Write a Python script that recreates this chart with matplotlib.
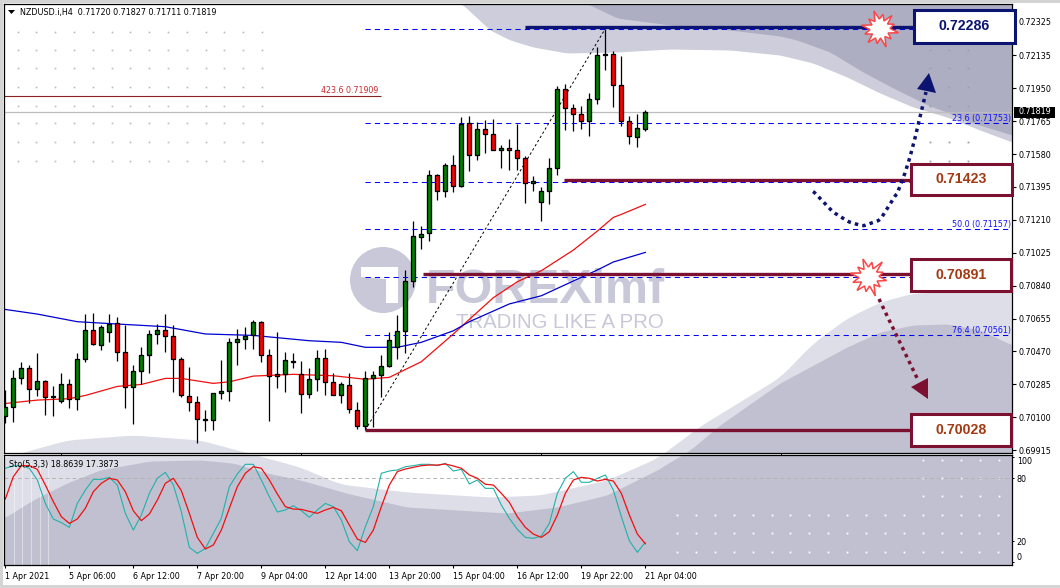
import numpy as np
import matplotlib
matplotlib.use("Agg")
import matplotlib.pyplot as plt
from matplotlib.patches import Polygon, Rectangle, Circle

W, H = 1060, 588
plt.rcParams['font.family'] = 'DejaVu Sans'
plt.rcParams['font.size'] = 5.8

# candles, in 1e-5 of a price unit
opens = [70108,70159,70318,70374,70256,70303,70217,70189,70284,70200,70425,70588,70504,70577,70628,70464,
         70267,70358,70448,70566,70588,70555,70425,70217,70183,70087,70082,70234,70245,70521,70538,70560,
         70633,70448,70341,70341,70408,70341,70228,70313,70431,70296,70222,70279,70138,70048,70318,70335,
         70388,70493,70583,70864,71115,71134,71461,71370,71517,71399,71757,71573,71719,71691,71601,71612,
         71601,71556,71415,71309,71370,71500,71945,71838,71804,71764,71888,72136,72141,71967,71764,71674,71720]
highs = [70252,70365,70408,70393,70459,70309,70275,70346,70313,70459,70680,70684,70618,70680,70661,70618,
         70393,70496,70590,70622,70680,70618,70436,70380,70219,70140,70234,70419,70543,70594,70605,70646,
         70639,70481,70577,70464,70459,70414,70374,70476,70481,70350,70299,70346,70183,70361,70361,70448,
         70581,70673,70928,71203,71175,71491,71468,71528,71575,71787,71794,71759,71772,71776,71629,71663,
         71749,71569,71457,71393,71556,71963,71973,71860,71851,71922,72181,72286,72162,72132,71794,71804,71827]
lows = [70065,70074,70286,70181,70219,70112,70106,70177,70153,70140,70412,70506,70478,70524,70418,70153,
        70061,70286,70350,70511,70468,70243,70211,70134,69956,70024,70029,70204,70192,70395,70483,70483,
        70412,70080,70266,70243,70376,70125,70209,70249,70224,70222,70177,70121,70031,70028,70046,70215,
        70384,70429,70463,70834,71044,71093,71322,71340,71367,71397,71485,71547,71588,71601,71504,71491,
        71491,71307,71372,71205,71299,71462,71716,71712,71723,71684,71864,72053,71847,71740,71639,71618,71711]
closes = [70155,70318,70374,70256,70303,70211,70211,70284,70200,70425,70588,70509,70605,70622,70464,70267,
          70358,70448,70566,70588,70555,70425,70222,70183,70087,70082,70234,70245,70521,70538,70555,70633,
          70448,70329,70329,70419,70414,70228,70313,70431,70296,70222,70284,70144,70048,70318,70335,70386,
          70532,70583,70864,71117,71128,71461,71370,71517,71399,71748,71573,71719,71691,71601,71612,71601,
          71556,71415,71427,71370,71500,71945,71838,71804,71764,71888,72136,72141,71967,71764,71680,71725,71819]

# moving averages, read at the listed candles
red_ma_idx = [0,4,8,10,14,17,20,22,26,28,31,36,41,45,48,52,56,58,61,64,67,71,74,76,77,80]
red_ma = [70177,70196,70204,70222,70273,70284,70318,70318,70290,70299,70331,70341,70333,70313,70324,70412,
          70568,70650,70772,70862,70924,71040,71147,71224,71241,71297]
blue_ma_idx = [0,4,9,14,20,25,31,38,42,45,49,52,56,58,63,67,71,74,76,80]
blue_ma = [70706,70680,70637,70624,70609,70568,70560,70530,70521,70493,70493,70521,70586,70637,70737,70783,
           70866,70928,70973,71027]

sto_signal = [60.2,81.6,92.1,92.1,88.6,73.6,57.7,43.3,36.9,41.1,51.3,67.2,75.2,80,78.4,67.2,49.0,39.5,45.8,
              59.2,75.2,80,68.2,46.5,23.5,12.4,16.2,30.5,51.3,72,84.8,91.1,89.6,78.4,65,52.9,50.6,50.3,48.4,
              46.5,49.7,52.2,49,35.3,21.9,18.7,30.5,52.9,73.6,86.4,88.9,90.5,92.1,92.7,92.7,93.7,91.8,89.6,
              83.2,80,74.3,73.6,65.6,57,43.3,33.1,26.7,23.5,28.9,44.9,65.6,78.4,80.9,80,77.4,79,77.4,65.6,
              44.9,26.7,17.39]
sto_main = [89.6,91.8,92.1,89.6,78.4,56,41.1,37.6,33.1,56,68.8,79,79,80.9,73.6,46.5,30.5,44.9,65.6,80,85.7,
            73.6,48.1,14,8.2,13,27.3,41.7,72,84.1,93.4,93.4,78.4,62.4,47.8,49.7,53.8,49,42.7,49.7,56,52.9,
            40.1,19.4,10.8,33.7,52.9,84.8,87,88,91.1,92.1,93.4,93.4,92.1,94.3,87,88.6,74.6,78.4,70.4,70.4,
            54.5,41.7,31.2,23.5,22.6,24.8,36.9,65.6,80,86.4,76.2,76.2,80,83.2,68.8,43.3,20.3,9.2,18.86]

price_ticks = ["0.72325","0.72135","0.71950","0.71765","0.71580","0.71395","0.71210",
               "0.71025","0.70840","0.70655","0.70470","0.70285","0.70100","0.69915"]
date_ticks = ["1 Apr 2021","5 Apr 06:00","6 Apr 12:00","7 Apr 20:00","9 Apr 04:00","12 Apr 14:00",
              "13 Apr 20:00","15 Apr 04:00","16 Apr 12:00","19 Apr 22:00","21 Apr 04:00"]
fib_levels = [0.72286, 0.71753, 0.71423, 0.71157, 0.70891, 0.70561]
fib_labels = {0.71753: "23.6 (0.71753)", 0.71157: "50.0 (0.71157)", 0.70561: "76.4 (0.70561)"}
ext_level = 0.71909
last_price = 0.71819
trend_idx = [45, 75]
trend_price = [0.70028, 0.72286]

NAVY = "#0b1470"
MAROON = "#7c1030"
BOX_TEXT = "#a33a14"

GREEN = "#008000"
RED = "#ff0000"


def px_axes(fig, left, top, right, bottom):
    return fig.add_axes([left / W, 1 - bottom / H, (right - left) / W, (bottom - top) / H])


def smooth(points, win=21):
    pts = np.array(points, dtype=float)
    x = np.arange(pts[0, 0], pts[-1, 0] + 1)
    y = np.interp(x, pts[:, 0], pts[:, 1])
    pad = win // 2
    y = np.convolve(np.pad(y, pad, mode="edge"), np.ones(win) / win, mode="valid")
    return x, y


def draw_watermark(ax):
    ax.add_patch(Rectangle((0, 0), W, 3, color="#d4d4d4", lw=0))
    ax.add_patch(Rectangle((0, 0), 3, H, color="#d4d4d4", lw=0))
    ax.add_patch(Rectangle((0, 585), W, 3, color="#d4d4d4", lw=0))

    # dot grids
    for y in [32, 50, 68, 87, 106, 123, 142, 161]:
        ax.plot(17.5 + 18.8 * np.arange(14), [y] * 14, ls="", marker="s", ms=1.2, color="#b9b9cc", mew=0)
    # top wave
    x, y = smooth([(462, 4), (475, 16), (490, 30), (510, 40), (533, 47), (567, 53), (617, 52), (670, 49), (730, 50),
                   (780, 55), (813, 63), (847, 77), (880, 93), (913, 107), (947, 117), (980, 130), (1012, 142)], 9)
    ax.fill_between(x, 4, y, color="#cdcddb", lw=0)
    x, y = smooth([(588, 4), (617, 18), (670, 25), (730, 30), (780, 36), (797, 40), (830, 52), (863, 72), (897, 90),
                   (930, 106), (947, 112), (967, 121), (1012, 135)], 9)
    ax.fill_between(x, 4, y, color="#aeaec2", lw=0)
    # bottom wave
    x, y = smooth([(4, 458), (20, 453), (67, 440), (133, 435), (200, 440), (267, 458), (300, 467), (340, 484),
                   (407, 492), (490, 497), (540, 495), (607, 480), (657, 458), (700, 426), (780, 377), (813, 343),
                   (847, 318), (880, 302), (913, 293), (947, 292), (1012, 292)])
    ax.fill_between(x, y, 565, color="#dedee8", lw=0)
    x, y = smooth([(4, 518), (33, 500), (67, 483), (100, 470), (150, 461), (200, 460), (233, 463), (267, 473),
                   (300, 480), (350, 494), (407, 507), (507, 513), (557, 507), (607, 495), (657, 470), (690, 450),
                   (720, 425), (780, 383), (847, 347), (880, 332), (913, 325), (947, 324), (980, 330), (1012, 345)], 9)
    ax.fill_between(x, y, 565, color="#c0c0d0", lw=0)

    ax.vlines([14, 22, 31, 40, 48], 462, 565, color="white", lw=0.7, alpha=0.45)
    for y in [50, 68, 87, 106, 123, 142, 161]:
        ax.plot([930, 949, 968], [y] * 3, ls="", marker="s", ms=1.3, color="#9d9db0", mew=0)
    for y in [515, 533, 552]:
        ax.plot(677 + 18.9 * np.arange(18), [y] * 18, ls="", marker="s", ms=1.3, color="white", mew=0)
    for y in [459.5, 478, 496]:
        ax.plot(923 + 18.9 * np.arange(5), [y] * 5, ls="", marker="s", ms=1.3, color="white", mew=0)

    # logo
    ax.add_patch(Circle((383, 280), 33, color="#c8c8d8", lw=0))
    ax.add_patch(Polygon([(361, 267), (398, 267), (398, 303), (386, 303), (386, 279), (361, 277)], color="white", lw=0))
    ax.text(426, 303, "FOREXimf", family="Liberation Sans", weight="bold", size=34.8, color="#c8c8d8", va="baseline")
    ax.text(456, 328, "TRADING LIKE A PRO", family="Liberation Sans", size=14.7, color="#c8c8d8", va="baseline")

    ax.add_patch(Rectangle((4, 453), 1008, 2, color="white", lw=0))


def draw_star(ax, cx, cy, radii):
    ang = np.linspace(0, 2 * np.pi, len(radii), endpoint=False) + 0.2
    pts = [(cx + r * np.cos(a), cy + r * np.sin(a)) for r, a in zip(radii, ang)]
    ax.add_patch(Polygon(pts, closed=True, fc="white", ec="#fa4646", lw=1.1, joinstyle="miter"))


def draw_box(ax, left, top, right, bottom, text, edge, color):
    ax.add_patch(Rectangle((left, top), right - left, bottom - top, fc="white", ec=edge, lw=2.2))
    ax.text((left + right) / 2, (top + bottom) / 2, text, family="Liberation Sans", weight="bold", size=10.2,
            color=color, ha="center", va="center")


def main():
    fig = plt.figure(figsize=(W / 100, H / 100), dpi=100, facecolor="white")

    back = fig.add_axes([0, 0, 1, 1], zorder=0)
    back.set_xlim(0, W)
    back.set_ylim(H, 0)
    back.axis("off")
    draw_watermark(back)

    ax = px_axes(fig, 4, 4, 1012, 452.7)
    sub = px_axes(fig, 4, 455, 1012, 565)
    for a in (ax, sub):
        a.set_zorder(2)
        a.patch.set_alpha(0)
        a.set_xlim(-0.166, 125.83)
        for s in a.spines.values():
            s.set_linewidth(0.9)

    ax.set_ylim(0.69900, 0.724246)
    sub.set_ylim(-2.9, 102.3)

    o = np.array(opens) / 1e5
    h = np.array(highs) / 1e5
    l = np.array(lows) / 1e5
    c = np.array(closes) / 1e5
    idx = np.arange(len(o))

    # level lines sit under the candles
    for lev in fib_levels:
        ax.hlines(lev, 45, 125.83, color="#0000ff", lw=0.75, linestyles=(0, (5, 4)), zorder=1, snap=True)
    ax.hlines(last_price, -0.166, 125.83, color="#bdbdbd", lw=0.9, zorder=1)
    ax.hlines(ext_level, -0.166, 46.9, color="#8c2020", lw=0.8, zorder=1)
    ax.text(39.4, ext_level + 0.00003, "423.6 0.71909", color="#c8282d", size=5.7, va="bottom")
    for lev, txt in fib_labels.items():
        ax.text(125.7, lev + 0.00003, txt, color="#1414ff", size=5.8, ha="right", va="bottom")

    ax.plot(trend_idx, trend_price, color="black", lw=0.7, ls=(0, (2.5, 2.5)), zorder=2)
    ax.plot(red_ma_idx, np.array(red_ma) / 1e5, color="#f01010", lw=0.9, zorder=2)
    ax.plot(blue_ma_idx, np.array(blue_ma) / 1e5, color="#0000d0", lw=0.9, zorder=2)

    ax.vlines(idx, l, h, color="black", lw=0.9, zorder=3)
    up = c >= o
    ax.bar(idx, np.abs(c - o), bottom=np.minimum(o, c), width=0.52,
           color=[GREEN if u else RED for u in up], edgecolor="black", lw=0.95, zorder=4)

    # thick support and resistance lines
    ax.hlines(0.72294, 65, 114, color=NAVY, lw=2.4, zorder=5)
    ax.hlines(0.71437, 69.8, 114, color=MAROON, lw=2.4, zorder=5)
    ax.hlines(0.70903, 52.2, 114, color=MAROON, lw=2.4, zorder=5)
    ax.hlines(0.70028, 45, 114, color=MAROON, lw=2.4, zorder=5)

    ax.yaxis.tick_right()
    ticks = [float(t) for t in price_ticks]
    ax.set_yticks(ticks, price_ticks)
    ax.tick_params(axis="y", length=2.6, width=0.8, pad=2, labelsize=5.8)
    ax.set_xticks(np.arange(7, 126, 30), [""] * 4)
    ax.tick_params(axis="x", length=1.5, width=0.7)

    # stochastic panel
    sub.plot(np.arange(len(sto_main)), sto_main, color="#20b2aa", lw=0.8)
    sub.plot(np.arange(len(sto_signal)), sto_signal, color="#f01010", lw=0.9)
    sub.axhline(80, color="#b4b4b4", lw=0.7, ls=(0, (4, 3)), zorder=1)
    sub.yaxis.tick_right()
    sub.set_yticks([100, 80, 20, 0], ["100", "80", "20", "0"])
    sub.tick_params(axis="y", length=1.5, width=0.7, pad=2, labelsize=5.8)
    labels = sub.get_yticklabels()
    labels[0].set_verticalalignment("top")
    labels[3].set_verticalalignment("bottom")
    sub.set_xticks(np.arange(0, 81, 8), date_ticks)
    for t in sub.get_xticklabels():
        t.set_horizontalalignment("left")
    sub.tick_params(axis="x", length=2.2, width=0.8, pad=2.5, labelsize=5.8)

    # everything drawn on top in pixel space
    over = fig.add_axes([0, 0, 1, 1], zorder=5)
    over.set_xlim(0, W)
    over.set_ylim(H, 0)
    over.axis("off")
    over.patch.set_alpha(0)

    over.add_patch(Polygon([(8, 10), (15, 10), (11.5, 14)], color="black", lw=0))
    over.text(20, 12.5, "NZDUSD.i,H4  0.71720 0.71827 0.71711 0.71819", size=5.8, va="center", color="black")
    over.text(9, 464.5, "Sto(5,3,3) 18.8639 17.3873", size=5.8, va="center", color="black")

    over.add_patch(Rectangle((1014, 106.5), 41, 11, color="black", lw=0))
    over.text(1034.5, 112, "0.71819", color="white", size=5.8, ha="center", va="center")

    draw_box(over, 914, 9.5, 1014.5, 42.5, "0.72286", NAVY, NAVY)
    draw_box(over, 911, 163.5, 1011.5, 195, "0.71423", MAROON, BOX_TEXT)
    draw_box(over, 910.5, 259, 1011, 291, "0.70891", MAROON, BOX_TEXT)
    draw_box(over, 910.5, 413.5, 1011, 446, "0.70028", MAROON, BOX_TEXT)

    draw_star(over, 880, 29, [19, 9, 15, 9, 19, 9, 15, 10, 18, 9, 16, 10, 19, 9, 15, 9, 19, 10, 15, 9, 18, 9, 15, 10])
    draw_star(over, 869, 277, [18, 9, 15, 9, 20, 9, 15, 10, 18, 9, 17, 10, 19, 9, 15, 9, 19, 10, 15, 9, 20, 9, 15, 10])

    xa, ya = smooth([(813, 191), (833, 212), (849, 222), (863, 226), (880, 220), (897, 193)], 5)
    xs = list(xa) + [905, 910, 915, 920, 926]
    ys = list(ya) + [173, 157, 138, 117, 92]
    over.plot(xs, ys, color=NAVY, lw=2.5, ls=(0, (1, 1.2)))
    over.add_patch(Polygon([(929, 73), (917, 89), (936, 93)], color=NAVY, lw=0))

    over.plot([879, 918], [299, 380], color=MAROON, lw=2.5, ls=(0, (1, 1.2)))
    over.add_patch(Polygon([(928, 399), (911, 387), (928, 378)], color=MAROON, lw=0))

    fig.savefig("out.png", dpi=100)


if __name__ == "__main__":
    main()
